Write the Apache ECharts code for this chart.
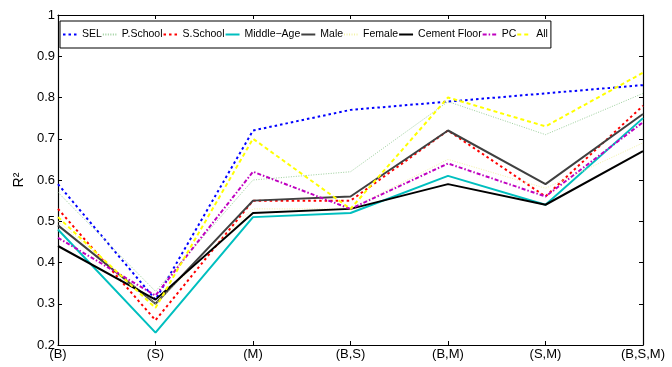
<!DOCTYPE html>
<html><head><meta charset="utf-8">
<script src="https://cdn.jsdelivr.net/npm/echarts@6/dist/echarts.min.js"></script>
<style>html,body{margin:0;padding:0;background:#fff}#c{width:672px;height:367px}</style>
</head><body><div id="c"></div>
<script>
const categories = ['(B)','(S)','(M)','(B,S)','(B,M)','(S,M)','(B,S,M)'];
const yTicks = [0.2,0.3,0.4,0.5,0.6,0.7,0.8,0.9,1];
const seriesNames = ['SEL','P.School','S.School','Middle\u2212Age','Male','Female','Cement Floor','PC','All'];
const SEL        = [0.59,0.31,0.72,0.77,0.79,0.81,0.83];
const PSchool    = [0.57,0.33,0.60,0.62,0.79,0.71,0.81];
const SSchool    = [0.53,0.26,0.55,0.55,0.72,0.56,0.78];
const MiddleAge  = [0.48,0.23,0.51,0.52,0.61,0.54,0.75];
const Male       = [0.49,0.30,0.55,0.56,0.72,0.59,0.76];
const Female     = [0.50,0.30,0.53,0.53,0.65,0.58,0.69];
const Cement     = [0.44,0.31,0.52,0.53,0.59,0.54,0.67];
const PC         = [0.46,0.32,0.62,0.53,0.64,0.56,0.74];
const All        = [0.51,0.29,0.70,0.53,0.80,0.73,0.86];
const values = [SEL,PSchool,SSchool,MiddleAge,Male,Female,Cement,PC,All];

const styles = [
  {color:'#0000ff', width:2, type:[2.5,3]},
  {color:'#9ccf9c', width:1, type:[1,1.5]},
  {color:'#ff0000', width:2, type:[2.5,3]},
  {color:'#00bfbf', width:2, type:'solid'},
  {color:'#404040', width:2, type:'solid'},
  {color:'#f2f2a6', width:1, type:[1,1.5]},
  {color:'#000000', width:2, type:'solid'},
  {color:'#bf00bf', width:2, type:[4,2,1.5,2]},
  {color:'#ffff00', width:2, type:[4,3]}
];

const chart = echarts.init(document.getElementById('c'), null, {renderer:'canvas'});
const font = 'Liberation Sans, Arial, Helvetica, sans-serif';
const axisBase = {
  axisLine:{show:true, lineStyle:{color:'#000', width:1.2}},
  axisTick:{show:true, inside:true, length:4, lineStyle:{color:'#000', width:1}},
  splitLine:{show:false}
};
chart.setOption({
  animation:false,
  backgroundColor:'#fff',
  textStyle:{fontFamily:font},
  grid:{left:58, right:29, top:15, bottom:22},
  legend:{
    left:60, top:21, orient:'horizontal',
    itemWidth:14, itemHeight:10, itemGap:0,
    padding:[8,3,8,2],
    borderColor:'#000', borderWidth:1, backgroundColor:'#fff',
    itemStyle:{opacity:0},
    textStyle:{fontFamily:font, fontSize:10.5, color:'#000'},
    data: seriesNames
  },
  xAxis:[
    Object.assign({type:'category', data:categories, boundaryGap:false, position:'bottom',
      axisLabel:{color:'#000', fontSize:13, margin:3, fontFamily:font, interval:0}}, axisBase),
    Object.assign({type:'category', data:categories, boundaryGap:false, position:'top',
      axisLabel:{show:false}}, axisBase)
  ],
  yAxis:[
    Object.assign({type:'value', min:yTicks[0], max:yTicks[yTicks.length-1], interval:0.1,
      name:'R\u00b2', nameLocation:'middle', nameGap:27, nameRotate:90,
      nameTextStyle:{color:'#000', fontSize:14, fontFamily:font},
      axisLabel:{color:'#000', fontSize:13, margin:3, fontFamily:font,
        formatter:v=>String(Math.round(v*10)/10)}}, axisBase),
    Object.assign({type:'value', min:yTicks[0], max:yTicks[yTicks.length-1], interval:0.1,
      position:'right', axisLabel:{show:false}}, axisBase)
  ],
  series: seriesNames.map((n,i)=>({
    name:n, type:'line', data:values[i], symbol:'none',
    xAxisIndex:0, yAxisIndex:0,
    lineStyle:{color:styles[i].color, width:styles[i].width, type:styles[i].type},
    itemStyle:{color:styles[i].color},
    z: 2+i
  }))
});
</script></body></html>
